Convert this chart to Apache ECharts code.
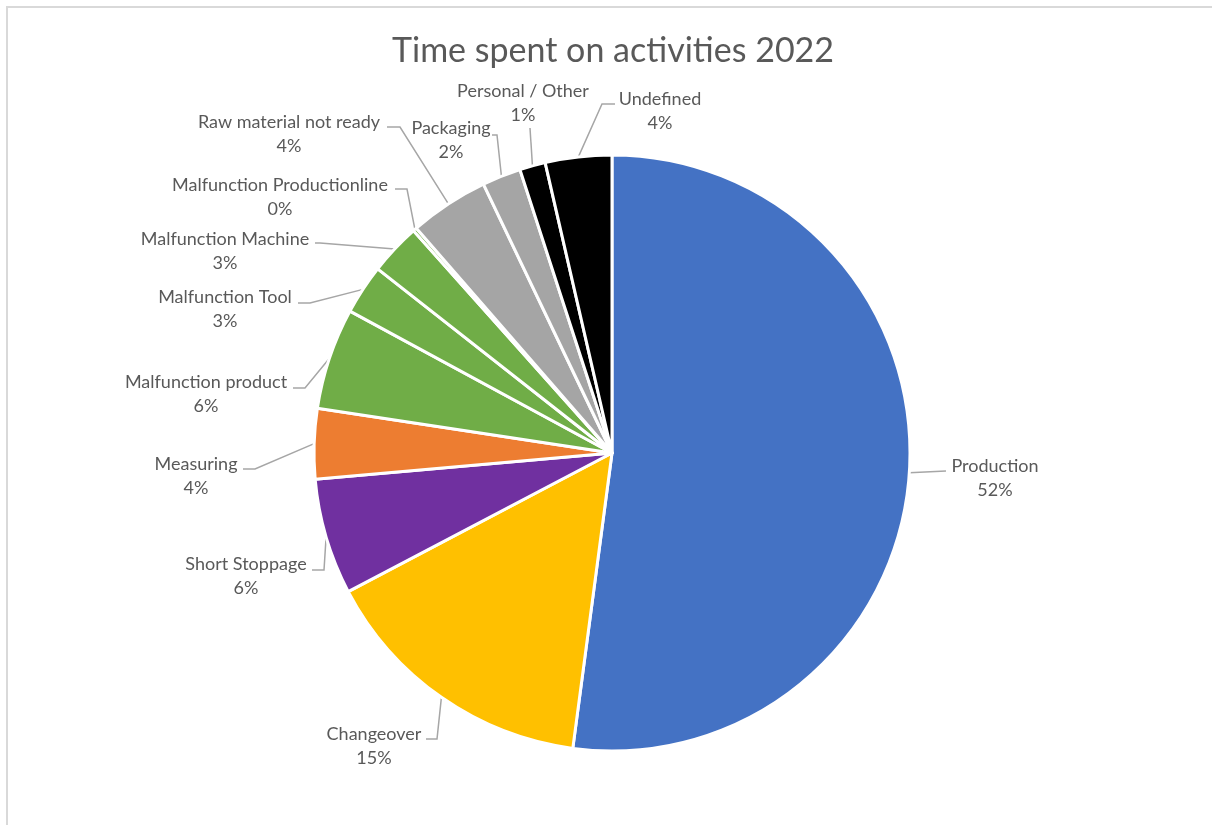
<!DOCTYPE html>
<html>
<head>
<meta charset="utf-8">
<script src="https://cdn.jsdelivr.net/npm/echarts@6/dist/echarts.min.js"></script>
<style>
  html, body { margin: 0; padding: 0; background: #ffffff; }
  #frame { position: absolute; left: 6px; top: 6px; width: 1220px; height: 840px; border: 2px solid #d9d9d9; box-sizing: border-box; }
  #chart { position: absolute; left: 0; top: 0; width: 1212px; height: 825px; }
</style>
</head>
<body>
<div id="frame"></div>
<div id="chart"></div>
<script>
// ---- data ----
const categories = [
  'Production', 'Changeover', 'Short Stoppage', 'Measuring', 'Malfunction product',
  'Malfunction Tool', 'Malfunction Machine', 'Malfunction Productionline',
  'Raw material not ready', 'Packaging', 'Personal / Other', 'Undefined'
];
const shares = [52.1, 15.2, 6.3, 3.8, 5.5, 2.7, 2.8, 0.2, 4.3, 2.1, 1.4, 3.6];
const title = 'Time spent on activities 2022';

// ---- styling / layout (not data) ----
const colors = ['#4472C4', '#FFC000', '#7030A0', '#ED7D31', '#70AD47',
  '#70AD47', '#70AD47', '#70AD47', '#A5A5A5', '#A5A5A5', '#000000', '#000000'];
// label block centre, leader elbow, leader end (Excel-style best-fit label placement)
const labelSpots = [
  [995, 478, 946, 471, 946, 471],
  [374, 746, 437, 739, 426, 739],
  [246, 576, 324, 570, 312, 570],
  [196, 476, 255, 469, 243, 469],
  [206, 394, 305, 388, 293, 388],
  [225, 309, 310, 303, 298, 303],
  [225, 251, 320, 243, 315, 243],
  [280, 197, 407, 189, 395, 189],
  [289, 134, 400, 127, 387, 127],
  [451, 140, 497, 135, 492, 135],
  [523, 103, 530, 128, 530, 128],
  [660, 111, 602, 104, 615, 104]
];

const FONT = 'Lato';
const chart = echarts.init(document.getElementById('chart'), null, { renderer: 'canvas' });
chart.setOption({
  backgroundColor: 'transparent',
  animation: false,
  title: {
    text: title,
    left: 387,
    top: 29,
    textStyle: { fontFamily: FONT, fontSize: 34, fontWeight: 'normal', color: '#595959' }
  },
  series: [{
    type: 'pie',
    center: [612, 453],
    radius: 298,
    startAngle: 90,
    clockwise: true,
    avoidLabelOverlap: false,
    itemStyle: { borderColor: '#ffffff', borderWidth: 3 },
    label: {
      show: true,
      position: 'outside',
      fontFamily: FONT,
      fontSize: 18,
      color: '#595959',
      lineHeight: 24,
      formatter: p => '{n|' + p.name + '}\n{n|' + Math.round(p.percent) + '%}',
      rich: { n: { align: 'center', fontFamily: FONT, fontSize: 18, color: '#595959', lineHeight: 24 } }
    },
    labelLine: {
      show: true,
      length: 18,
      length2: 16,
      lineStyle: { color: '#A6A6A6', width: 1.5 }
    },
    labelLayout: function (params) {
      const s = labelSpots[params.dataIndex];
      const edge = params.labelLinePoints ? params.labelLinePoints[0] : [s[2], s[3]];
      return {
        x: s[0],
        y: s[1],
        align: 'center',
        verticalAlign: 'middle',
        labelLinePoints: [edge, [s[2], s[3]], [s[4], s[5]]]
      };
    },
    data: categories.map((c, i) => ({ name: c, value: shares[i], itemStyle: { color: colors[i] } }))
  }]
});
</script>
</body>
</html>
